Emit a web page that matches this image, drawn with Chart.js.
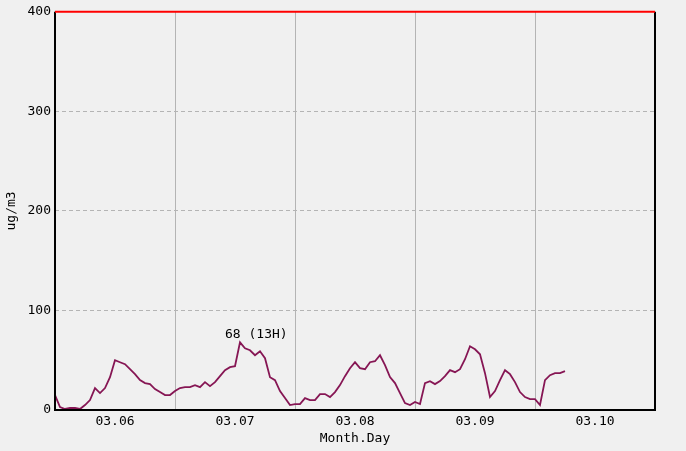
<!DOCTYPE html>
<html>
<head>
<meta charset="utf-8">
<script src="https://cdn.jsdelivr.net/npm/chart.js@4/dist/chart.umd.min.js"></script>
<style>
  html, body { margin: 0; padding: 0; background: #f0f0f0; }
  #wrap { width: 686px; height: 451px; }
</style>
</head>
<body>
<div id="wrap"><canvas id="myChart" width="686" height="451"></canvas></div>
<script>
// hourly values, starting 03.06 00H
const pm = [
  15, 3, 1, 2, 2, 1, 5, 10, 22, 17, 22, 33, 50, 48, 46, 41, 36, 30, 27, 26, 21, 18, 15, 15,
  19, 22, 23, 23, 25, 23, 28, 24, 28, 34, 40, 43, 44, 68, 62, 60, 55, 59, 52, 33, 30, 19, 12, 5,
  6, 6, 12, 10, 10, 16, 16, 13, 18, 25, 34, 42, 48, 42, 41, 48, 49, 55, 45, 33, 27, 17, 7, 5,
  8, 6, 27, 29, 26, 29, 34, 40, 38, 41, 51, 64, 61, 56, 37, 13, 19, 30, 40, 36, 28, 18, 13, 11,
  11, 5, 30, 35, 37, 37, 39
];
const hours = pm.map((v, i) => i);
const dayLabels = ['03.06', '03.07', '03.08', '03.09', '03.10'];
const yTicks = [0, 100, 200, 300, 400];

const FONT = 'DejaVu Sans Mono';

// background + frame + peak label
const framePlugin = {
  id: 'frame',
  beforeDraw(chart) {
    const c = chart.ctx;
    c.save();
    c.fillStyle = '#f0f0f0';
    c.fillRect(0, 0, chart.width, chart.height);
    c.restore();
  },
  afterDraw(chart) {
    const c = chart.ctx;
    const a = chart.chartArea;
    c.save();
    c.lineWidth = 2;
    c.strokeStyle = '#000';
    c.beginPath();
    c.moveTo(a.left, a.top);
    c.lineTo(a.left, a.bottom);
    c.lineTo(a.right, a.bottom);
    c.lineTo(a.right, a.top);
    c.stroke();
    c.strokeStyle = '#ff0000';
    c.beginPath();
    c.moveTo(a.left, a.top);
    c.lineTo(a.right, a.top);
    c.stroke();

    // max value label
    let mi = 0;
    pm.forEach((v, i) => { if (v > pm[mi]) mi = i; });
    const px = chart.scales.x.getPixelForValue(hours[mi]);
    const py = chart.scales.y.getPixelForValue(pm[mi]);
    c.fillStyle = '#000';
    c.font = '13px ' + FONT;
    c.textAlign = 'left';
    c.textBaseline = 'middle';
    c.fillText(pm[mi] + ' (' + (hours[mi] % 24) + 'H)', px - 15, py - 8);
    c.restore();
  }
};

new Chart('myChart', {
  type: 'line',
  data: {
    datasets: [{
      data: hours.map((h, i) => ({ x: h, y: pm[i] })),
      borderColor: '#861654',
      borderWidth: 1.8,
      pointRadius: 0,
      tension: 0,
      fill: false
    }]
  },
  options: {
    responsive: false,
    animation: false,
    layout: { padding: { top: 10, right: 31, left: 0, bottom: 0 } },
    plugins: { legend: { display: false }, tooltip: { enabled: false } },
    scales: {
      x: {
        type: 'linear',
        min: 0,
        max: 120,
        afterBuildTicks(scale) {
          const t = [];
          for (let v = 0; v <= 120; v += 12) t.push({ value: v });
          scale.ticks = t;
        },
        afterFit(scale) { scale.height = 41; },
        border: { display: false },
        grid: {
          drawTicks: false,
          lineWidth: 1,
          color: (ctx) => {
            const v = ctx.tick && ctx.tick.value;
            return (v % 24 === 0 && v > 0 && v < 120) ? '#b4b4b4' : 'rgba(0,0,0,0)';
          }
        },
        ticks: {
          autoSkip: false,
          maxRotation: 0,
          padding: 4,
          color: '#000',
          font: { family: FONT, size: 13 },
          callback: (v) => (v % 24 === 12 ? dayLabels[(v - 12) / 24] : '')
        },
        title: {
          display: true,
          text: 'Month.Day',
          color: '#000',
          font: { family: FONT, size: 13 },
          padding: { top: 0, bottom: 5 }
        }
      },
      y: {
        min: 0,
        max: 400,
        afterBuildTicks(scale) { scale.ticks = yTicks.map(v => ({ value: v })); },
        afterFit(scale) { scale.width = 55; },
        border: { display: false, dash: [4, 3] },
        grid: {
          drawTicks: false,
          color: (ctx) => {
            const v = ctx.tick && ctx.tick.value;
            return (v > 0 && v < 400) ? '#b4b4b4' : 'rgba(0,0,0,0)';
          }
        },
        ticks: {
          padding: 4,
          color: '#000',
          font: { family: FONT, size: 13 }
        },
        title: {
          display: true,
          text: 'ug/m3',
          color: '#000',
          font: { family: FONT, size: 13 },
          padding: { top: 4, bottom: 0 }
        }
      }
    }
  },
  plugins: [framePlugin]
});
</script>
</body>
</html>
